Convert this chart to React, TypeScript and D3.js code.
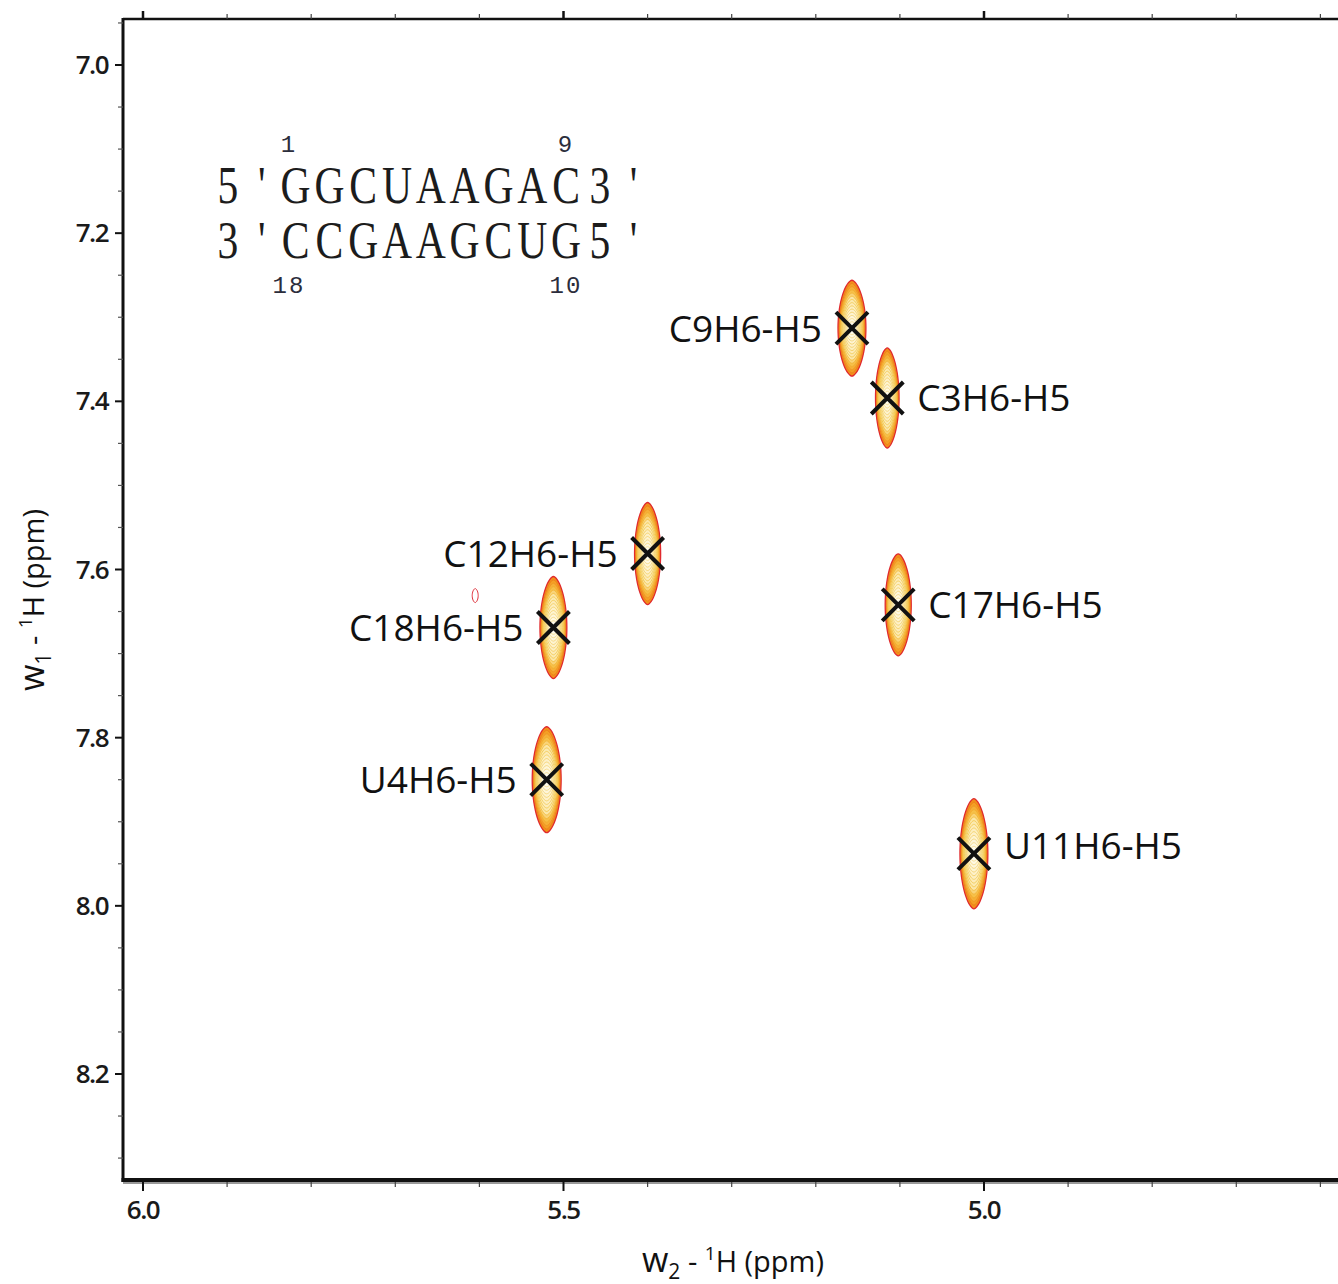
import React, { useEffect, useRef } from 'react'
import * as d3 from 'd3'

// peak table (ppm)
const peakNames = ['C9H6-H5', 'C3H6-H5', 'C12H6-H5', 'C18H6-H5', 'C17H6-H5', 'U4H6-H5', 'U11H6-H5']
const peakW2 = [5.157, 5.115, 5.400, 5.512, 5.102, 5.520, 5.012]
const peakW1 = [7.313, 7.396, 7.581, 7.669, 7.642, 7.850, 7.938]
// half widths of the outer contour (ppm)
const peakHalfW2 = [0.0166, 0.0140, 0.0155, 0.0160, 0.0155, 0.0172, 0.0166]
const peakHalfW1 = [0.0570, 0.0595, 0.0607, 0.0607, 0.0607, 0.0630, 0.0655]

// small artefact peak
const noiseW2 = [5.605]
const noiseW1 = [7.631]

const xMajorTicks = [6.0, 5.5, 5.0]
const yMajorTicks = [7.0, 7.2, 7.4, 7.6, 7.8, 8.0, 8.2]

const strand1 = "5'GGCUAAGAC3'"
const strand2 = "3'CCGAAGCUG5'"
const strandNumbers = [
  { text: '1', row: 'top', at: 0 },
  { text: '9', row: 'top', at: 1 },
  { text: '18', row: 'bottom', at: 0 },
  { text: '10', row: 'bottom', at: 1 },
]

// which side the label sits on, and a vertical nudge
const labelSide: Record<string, [number, number]> = {
  'C9H6-H5': [-1, 0],
  'C3H6-H5': [1, 0],
  'C12H6-H5': [-1, 0],
  'C18H6-H5': [-1, 0],
  'C17H6-H5': [1, 0],
  'U4H6-H5': [-1, 0],
  'U11H6-H5': [1, -8],
}

const W = 1338
const H = 1284
const frame = { left: 123, top: 19, bottom: 1180 }

const sansFont = "'Open Sans', 'Noto Sans', sans-serif"
const serifFont = "'Liberation Serif', 'DejaVu Serif', serif"
const monoFont = "'Liberation Mono', 'DejaVu Sans Mono', monospace"

export default function App() {
  const ref = useRef<SVGSVGElement | null>(null)

  useEffect(() => {
    const svg = d3.select(ref.current)
    svg.selectAll('*').remove()

    const x = d3.scaleLinear().domain([6.0, 5.0]).range([143, 984])
    const y = d3.scaleLinear().domain([7.0, 8.2]).range([65, 1074])

    const xDomain = [x.invert(frame.left), x.invert(W)]
    const yDomain = [y.invert(frame.top), y.invert(frame.bottom)]

    const xMinor = d3.range(Math.ceil(xDomain[1] * 10), Math.floor(xDomain[0] * 10) + 1).map(d => d / 10)
    const yMinor = d3.range(Math.ceil(yDomain[0] * 20), Math.floor(yDomain[1] * 20) + 1).map(d => d / 20)

    svg.append('rect').attr('width', W).attr('height', H).attr('fill', '#fff')

    // --- contours
    const shape = d3.line().curve(d3.curveCardinalClosed.tension(0.2))
    const ring = (cx: number, cy: number, a: number, b: number) => {
      const pts: [number, number][] = d3.range(0, 36).map(i => {
        const t = (i / 36) * Math.PI * 2
        const c = Math.cos(t)
        return [cx + a * Math.sign(c) * Math.pow(Math.abs(c), 1.2), cy + b * Math.sin(t)]
      })
      return shape(pts)
    }
    const nLevels = 14
    const fillScale = d3.scaleLinear<string>()
      .domain([0, 1, 3, 5, nLevels - 1])
      .range(['#f29018', '#f4a024', '#f7c048', '#fce7a8', '#fffbea'])
    const strokeScale = d3.scaleLinear<string>()
      .domain([0, 1, 3, 6, nLevels - 1])
      .range(['#e02a2e', '#ee7d1e', '#f3ad30', '#f4cb55', '#f7df96'])

    const g = svg.append('g')
    peakNames.forEach((name, i) => {
      const cx = x(peakW2[i])
      const cy = y(peakW1[i])
      const a = Math.abs(x(peakW2[i] - peakHalfW2[i]) - cx)
      const b = Math.abs(y(peakW1[i] + peakHalfW1[i]) - cy)
      for (let k = 0; k < nLevels; k++) {
        const s = 1 - k / (nLevels + 1)
        g.append('path')
          .attr('d', ring(cx, cy, a * (k === 0 ? 1 : 0.93 * Math.sqrt(s)), b * s))
          .attr('fill', fillScale(k))
          .attr('stroke', strokeScale(k))
          .attr('stroke-width', k === 0 ? 1.3 : 1)
      }
    })
    noiseW2.forEach((w2, i) => {
      g.append('path')
        .attr('d', ring(x(w2), y(noiseW1[i]), 3, 7))
        .attr('fill', 'none')
        .attr('stroke', '#e0303a')
        .attr('stroke-width', 1)
    })

    // --- cross marks and labels
    peakNames.forEach((name, i) => {
      const cx = x(peakW2[i])
      const cy = y(peakW1[i])
      const r = 16
      svg.append('path')
        .attr('d', `M${cx - r},${cy - r}L${cx + r},${cy + r}M${cx - r},${cy + r}L${cx + r},${cy - r}`)
        .attr('stroke', '#111')
        .attr('stroke-width', 4)
      const [side, dy] = labelSide[name]
      svg.append('text')
        .attr('x', cx + side * 30)
        .attr('y', cy + dy)
        .attr('dy', '0.36em')
        .attr('text-anchor', side < 0 ? 'end' : 'start')
        .attr('font-family', sansFont)
        .attr('font-size', 37)
        .attr('fill', '#111')
        .text(name)
    })

    // --- duplex sequence, one monospaced cell per character
    const cell = 33.8
    const seq = svg.append('g').attr('font-family', serifFont).attr('fill', '#1c1c1c')
      .attr('font-size', 52).attr('text-anchor', 'middle')
    ;[strand1, strand2].forEach((s, r) => {
      s.split('').forEach((ch, j) => {
        seq.append('text')
          .attr('transform', `translate(${228 + j * cell},${r === 0 ? 203 : 258}) scale(0.8,1)`)
          .text(ch)
      })
    })
    strandNumbers.forEach(n => {
      svg.append('text')
        .attr('x', n.at === 0 ? 289 : 566)
        .attr('y', n.row === 'top' ? 152 : 293)
        .attr('text-anchor', 'middle')
        .attr('font-family', monoFont)
        .attr('font-size', 24)
        .attr('letter-spacing', 2)
        .attr('fill', '#2b2d3c')
        .text(n.text)
    })

    // --- frame
    const ax = svg.append('g').attr('stroke', '#111').attr('fill', 'none')
    ax.append('line').attr('x1', frame.left).attr('x2', W).attr('y1', frame.top).attr('y2', frame.top).attr('stroke-width', 2.5)
    ax.append('line').attr('x1', frame.left).attr('x2', frame.left).attr('y1', frame.top - 1).attr('y2', frame.bottom + 2).attr('stroke-width', 3)
    ax.append('line').attr('x1', frame.left).attr('x2', W).attr('y1', frame.bottom + 3).attr('y2', frame.bottom + 3).attr('stroke', '#999').attr('stroke-width', 2)
    ax.append('line').attr('x1', frame.left - 1.5).attr('x2', W).attr('y1', frame.bottom).attr('y2', frame.bottom).attr('stroke-width', 4)

    // x ticks (bottom and top)
    xMinor.forEach(v => {
      const major = xMajorTicks.some(m => Math.abs(m - v) < 1e-6)
      const px = x(v)
      ax.append('line').attr('x1', px).attr('x2', px)
        .attr('y1', frame.bottom + 2).attr('y2', frame.bottom + (major ? 11 : 7))
        .attr('stroke-width', major ? 2 : 1.2).attr('stroke', major ? '#111' : '#444')
      ax.append('line').attr('x1', px).attr('x2', px)
        .attr('y1', frame.top).attr('y2', frame.top - (major ? 8 : 5))
        .attr('stroke-width', major ? 2.5 : 1.2).attr('stroke', major ? '#111' : '#444')
    })
    yMinor.forEach(v => {
      const major = yMajorTicks.some(m => Math.abs(m - v) < 1e-6)
      const py = y(v)
      ax.append('line').attr('y1', py).attr('y2', py)
        .attr('x1', frame.left).attr('x2', frame.left - (major ? 8 : 5))
        .attr('stroke-width', major ? 2 : 1.2).attr('stroke', major ? '#111' : '#555')
    })

    const lab = svg.append('g').attr('font-family', sansFont).attr('fill', '#1a1a1a')
      .attr('font-size', 26).attr('font-weight', 600)
    xMajorTicks.forEach(v => {
      lab.append('text').attr('x', x(v)).attr('y', 1219).attr('text-anchor', 'middle')
        .attr('letter-spacing', -1.5).text(d3.format('.1f')(v))
    })
    yMajorTicks.forEach(v => {
      lab.append('text').attr('x', 108).attr('y', y(v)).attr('dy', '0.35em').attr('text-anchor', 'end')
        .attr('letter-spacing', -1.5).text(d3.format('.1f')(v))
    })

    // axis titles
    const title = (sel: d3.Selection<SVGTextElement, unknown, null, undefined>, sub: string) => {
      sel.attr('text-anchor', 'middle').attr('font-family', sansFont).attr('font-size', 29)
        .attr('fill', '#111')
      sel.append('tspan').attr('font-size', 34).text('w')
      sel.append('tspan').attr('font-size', 21).attr('dy', 7).text(sub)
      sel.append('tspan').attr('dy', -7).text(' - ')
      sel.append('tspan').attr('font-size', 19).attr('dy', -12).text('1')
      sel.append('tspan').attr('dy', 12).text('H  (ppm)')
    }
    title(svg.append('text').attr('x', 733).attr('y', 1272), '2')
    title(svg.append('text').attr('transform', 'translate(44,600) rotate(-90)'), '1')
  }, [])

  return (
    <svg ref={ref} width={W} height={H} style={{ position: 'absolute', left: 0, top: 0, display: 'block' }} />
  )
}
